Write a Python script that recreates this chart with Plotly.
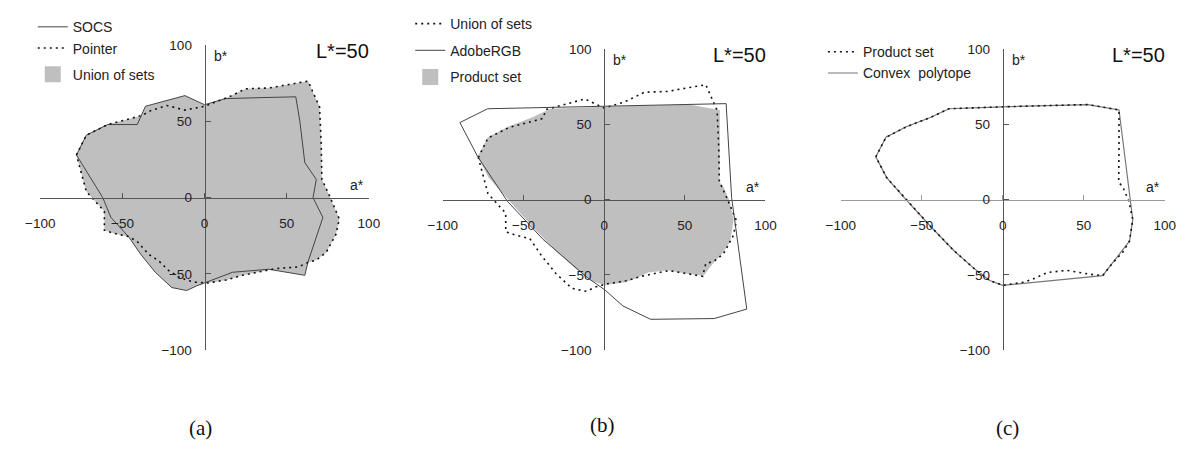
import plotly.graph_objects as go

# ---------------- data (a*, b* coordinates) ----------------
SOCS_A = [-78, -72, -59, -41, -36, -12, 0, 12.5, 35, 55.5, 58, 61, 68, 66, 72, 63, 61, 39, 17, 0.6, -5, -11, -20, -30, -39, -46, -57, -62, -78]
SOCS_B = [28, 41, 48, 48, 60, 67, 61, 65, 65.7, 66.2, 50, 23, 12, 0, -13, -42, -51, -47, -49, -55.5, -58, -61, -59, -49, -37, -26, -13, 0, 28]

POINTER_A = [-78, -72, -59, -48, -38, -33, -23, -12, 0, 15.5, 25, 39, 63, 70, 71, 71.4, 76, 82, 80, 74, 68, 63, 57, 43, 23, 13.5, 2, -7, -15, -22, -28, -34, -41, -46, -55, -61, -61, -72, -78]
POINTER_B = [28, 41, 48, 51, 54, 57, 60.5, 57.5, 60, 66.5, 71.5, 72, 76.5, 59.5, 35, 12, 1.3, -14, -24, -36, -41, -42.5, -45.5, -46.6, -51, -54, -56, -55.4, -52.5, -47.7, -41.4, -37.2, -28.8, -25.6, -23.5, -21.4, -9, 4, 28]

UNION_A = [-78, -72, -59, -48, -38, -36, -12, 0, 12.5, 15.5, 25, 39, 63, 70, 71, 71.4, 76, 82, 80, 74, 68, 63, 61, 40, 23, 13.5, 2, -5, -11, -20, -30, -39, -46, -55, -61, -61, -72, -78]
UNION_B = [28, 41, 48, 51, 54, 60, 67, 61, 65, 66.5, 71.5, 72, 76.5, 59.5, 35, 12, 1.3, -14, -24, -36, -41, -42.5, -51, -47.2, -51, -54, -56, -58, -61, -59, -49, -37, -26, -23.5, -21.4, -9, 4, 28]

ADOBE_A = [-89.4, -72.2, 75.6, 79, 88.4, 68.2, 28.8, 11.6, 0.5, -10.6, -37.9, -60, -78.3, -89.4]
ADOBE_B = [51.3, 60.5, 63.9, 1.5, -72.8, -79.1, -79.6, -70.7, -60.1, -51.7, -26.4, -1, 28.5, 51.3]

PRODUCT_A = [-78.4, -72.1, -59.6, -44.4, -33.3, 0, 52.5, 71.7, 71.7, 71.5, 74, 77.8, 80.2, 78.2, 74, 67.7, 61.6, 53.5, 39.4, 27.3, 20.2, 13.2, 0, -8.1, -18.2, -30.3, -44.4, -60.6, -71.7, -78.4]
PRODUCT_B = [28.5, 41.5, 48.5, 54.8, 60.5, 61.8, 63.3, 59.7, 34.8, 11.6, 8.5, -1, -13.3, -27.5, -35, -42.2, -50.6, -49.6, -47, -48.5, -52.1, -54.9, -57, -53.8, -45.4, -33.8, -18, 1, 14.7, 28.5]

CONVEX_A = [-78.4, -72.1, -59.6, -44.4, -33.3, 0, 52.5, 71.7, 80.2, 78.2, 61.6, 0, -8.1, -18.2, -30.3, -44.4, -60.6, -71.7, -78.4]
CONVEX_B = [28.5, 41.5, 48.5, 54.8, 60.5, 61.8, 63.3, 59.7, -13.3, -27.5, -50.6, -57, -53.8, -45.4, -33.8, -18, 1, 14.7, 28.5]

TICKS = [-100, -50, 0, 50, 100]
PANEL_LABELS = ["(a)", "(b)", "(c)"]
LEVEL_LABEL = "L*=50"

# ---------------- styling ----------------
# the page body keeps its default 8 px margin, so the figure is 16 px smaller
OFF = 8
W, H = 1191 - 2 * OFF, 451 - 2 * OFF
GRAY = "#bfbfbf"
SANS = "Liberation Sans, Arial, sans-serif"
SERIF = "Liberation Serif, Times New Roman, serif"
DOT = "2px,4px"

# pixel boxes (in window pixels) of the three plotting areas: (left, right), (top, bottom)
BOXES = [((25.7, 361.7), (37.5, 354.5)),
         ((437.3, 767.3), (41.7, 354.5)),
         ((844.3, 1175.7), (41.7, 354.5))]


def px(v):
    return (v - OFF) / W


def py(v):
    return 1 - (v - OFF) / H


fig = go.Figure()


def sc(x, y, axis, **kw):
    fig.add_trace(go.Scatter(x=x, y=y, xaxis="x" + axis, yaxis="y" + axis,
                             hoverinfo="skip", **kw))


# panel (a)
sc(SOCS_A, SOCS_B, "", mode="lines", fill="toself", fillcolor=GRAY,
   line=dict(width=0), showlegend=False)
sc(POINTER_A, POINTER_B, "", mode="lines", fill="toself", fillcolor=GRAY,
   line=dict(width=0), showlegend=False)
sc(SOCS_A, SOCS_B, "", mode="lines", name="SOCS", legend="legend", legendgroup="a1",
   line=dict(color="#444444", width=1))
sc(POINTER_A, POINTER_B, "", mode="lines", name="Pointer", legend="legend", legendgroup="a1",
   line=dict(color="#111111", width=1.6, dash=DOT))
sc([None], [None], "", mode="markers", name="Union of sets", legend="legend", legendgroup="a2",
   marker=dict(symbol="square", size=18, color=GRAY))

# panel (b)
sc(PRODUCT_A, PRODUCT_B, "2", mode="lines", fill="toself", fillcolor=GRAY,
   line=dict(width=0), showlegend=False)
sc(UNION_A, UNION_B, "2", mode="lines", name="Union of sets", legend="legend2", legendgroup="b1",
   line=dict(color="#111111", width=1.6, dash=DOT))
sc(ADOBE_A, ADOBE_B, "2", mode="lines", name="AdobeRGB", legend="legend2", legendgroup="b2",
   line=dict(color="#444444", width=1))
sc([None], [None], "2", mode="markers", name="Product set", legend="legend2", legendgroup="b3",
   marker=dict(symbol="square", size=18, color=GRAY))

# panel (c)
sc(CONVEX_A, CONVEX_B, "3", mode="lines", name="Convex  polytope", legend="legend3", legendrank=2,
   line=dict(color="#777777", width=1.2))
sc(PRODUCT_A, PRODUCT_B, "3", mode="lines", name="Product set", legend="legend3", legendrank=1,
   line=dict(color="#111111", width=1.6, dash=DOT))

layout = dict(width=W, height=H, autosize=False, margin=dict(l=0, r=0, t=0, b=0, pad=0),
              paper_bgcolor="white", plot_bgcolor="rgba(0,0,0,0)", showlegend=True,
              font=dict(family=SANS, size=13, color="#222222"))

annotations = []
for i, ((xl, xr), (yt, yb)) in enumerate(BOXES):
    suf = "" if i == 0 else str(i + 1)
    xd = [px(xl), px(xr)]
    yd = [py(yb), py(yt)]
    xmid = (xd[0] + xd[1]) / 2
    ymid = (yd[0] + yd[1]) / 2
    xcol = "#9a9a9a" if i == 2 else "#555555"
    layout["xaxis" + suf] = dict(domain=xd, range=[-100, 100], anchor="free", position=ymid,
                                 showline=True, linecolor=xcol, linewidth=1.2,
                                 ticks="inside", ticklen=5, tickcolor=xcol, tickwidth=1,
                                 tickvals=TICKS, showgrid=False, zeroline=False,
                                 ticklabelstandoff=13, tickfont=dict(size=13.5, color="#222"),
                                 fixedrange=True)
    layout["yaxis" + suf] = dict(domain=yd, range=[-100, 100], anchor="free", position=xmid,
                                 showline=True, linecolor="#555555", linewidth=1.2,
                                 ticks="inside", ticklen=5, tickcolor="#555555", tickwidth=1,
                                 tickvals=TICKS, showgrid=False, zeroline=False,
                                 ticklabelstandoff=10, tickfont=dict(size=13.5, color="#222"),
                                 fixedrange=True)
    xr_, yr_ = "x" + suf, "y" + suf
    annotations.append(dict(x=84, y=96.5, xref=xr_, yref=yr_, text=LEVEL_LABEL, showarrow=False,
                            xanchor="center", yanchor="middle",
                            font=dict(size=20, color="#111")))
    annotations.append(dict(x=10, y=93, xref=xr_, yref=yr_, text="b*", showarrow=False,
                            xanchor="center", yanchor="middle",
                            font=dict(size=14, color="#222")))
    annotations.append(dict(x=92.5, y=8.5, xref=xr_, yref=yr_, text="a*", showarrow=False,
                            xanchor="center", yanchor="middle",
                            font=dict(size=14, color="#222")))

for txt, cx, cy in zip(PANEL_LABELS, [190, 601, 1015], [436, 433, 436]):
    annotations.append(dict(x=px(cx), y=py(cy), xref="paper", yref="paper", text=txt,
                            xanchor="center", yanchor="middle", showarrow=False,
                            font=dict(family=SERIF, size=21, color="#111")))
layout["annotations"] = annotations

leg = dict(bgcolor="rgba(0,0,0,0)", font=dict(family=SANS, size=14, color="#222"),
           xanchor="left", yanchor="top", itemwidth=30)
layout["legend"] = dict(leg, x=px(18), y=py(2), traceorder="grouped", tracegroupgap=5)
layout["legend2"] = dict(leg, x=px(404), y=py(-1.5), traceorder="grouped", tracegroupgap=5.5)
layout["legend3"] = dict(leg, x=px(826), y=py(28), traceorder="normal")

fig.update_layout(**layout)
fig.write_html("out.html", config=dict(displayModeBar=False, staticPlot=True))
